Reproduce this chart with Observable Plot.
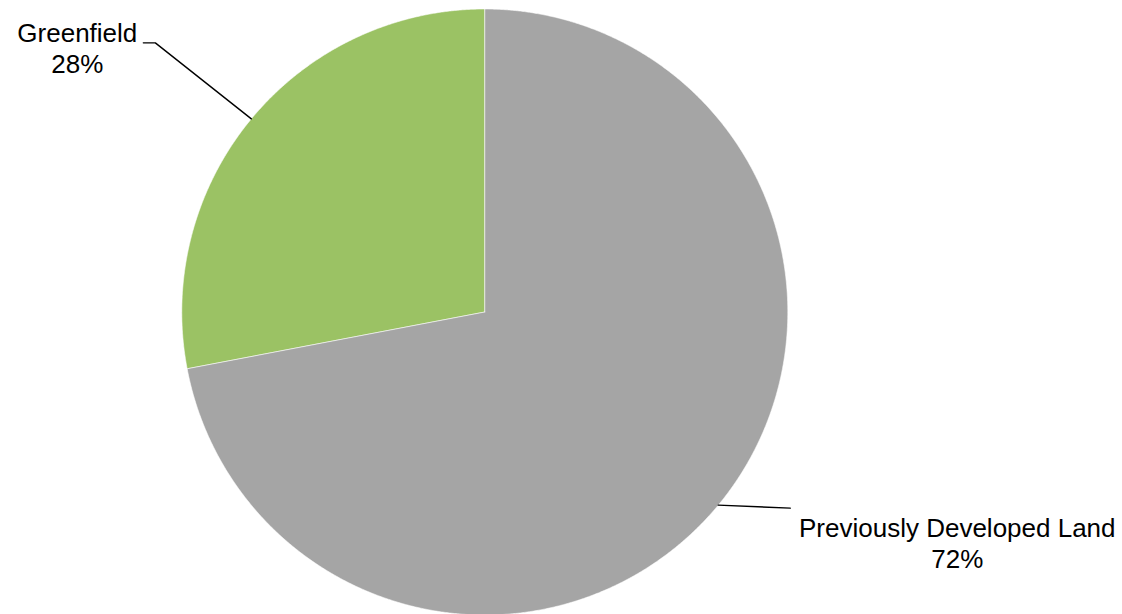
<!DOCTYPE html>
<html><head><meta charset="utf-8">
<script src="https://cdn.jsdelivr.net/npm/d3@7"></script>
<script src="https://cdn.jsdelivr.net/npm/@observablehq/plot@0.6"></script>
<style>html,body{margin:0;padding:0;background:#fff;overflow:hidden;}</style>
</head><body><div id="chart"></div>
<script>
// ---- data ----
const categories = ["Greenfield", "Previously Developed Land"];
const values = [28, 72];
const percentLabels = ["28%", "72%"];
const colors = ["#9BC264", "#A5A5A5"];

// ---- layout ----
const W = 1122, H = 614;
const cx = 484.3, cy = 311.5, R = 303;
const fontSize = 26;
const lineGap = 31;
// leader-line shape and label placement per category (layout only)
const labelLayout = {
  "Greenfield": {elbow: [-96, -76], end: [-108, -76], text: [-66, -1]},
  "Previously Developed Land": {elbow: null, end: [72, 3], text: [167, 29]}
};

const rows = categories.map((c, i) => ({name: c, value: values[i], pct: percentLabels[i]}));
const total = d3.sum(values);
const start = -2 * Math.PI * values[0] / total;
const arcs = d3.pie().sort(null).value(d => d.value).startAngle(start).endAngle(start + 2 * Math.PI)(rows);

const pt = (a, r) => [cx + r * Math.sin(a), cy - r * Math.cos(a)];

// slice polygons
const slicePts = [];
for (const a of arcs) {
  slicePts.push({name: a.data.name, x: cx, y: cy});
  const n = Math.max(2, Math.ceil((a.endAngle - a.startAngle) / (Math.PI / 720)));
  for (let k = 0; k <= n; k++) {
    const ang = a.startAngle + (a.endAngle - a.startAngle) * k / n;
    const [x, y] = pt(ang, R);
    slicePts.push({name: a.data.name, x, y});
  }
  slicePts.push({name: a.data.name, x: cx, y: cy});
}

// leaders and labels
const leaderPts = [];
const labels = [];
for (const a of arcs) {
  const L = labelLayout[a.data.name];
  const mid = (a.startAngle + a.endAngle) / 2;
  const [x0, y0] = pt(mid, R);
  leaderPts.push({name: a.data.name, x: x0, y: y0});
  if (L.elbow) leaderPts.push({name: a.data.name, x: x0 + L.elbow[0], y: y0 + L.elbow[1]});
  const ex = x0 + L.end[0], ey = y0 + L.end[1];
  leaderPts.push({name: a.data.name, x: ex, y: ey});
  const bx = ex + L.text[0], by = ey + L.text[1];
  labels.push({x: bx, y: by, text: a.data.name});
  labels.push({x: bx, y: by + lineGap, text: a.data.pct});
}

const chart = Plot.plot({
  width: W, height: H,
  margin: 0,
  style: {fontFamily: "'Liberation Sans', Arial, sans-serif", background: "#fff"},
  x: {type: "linear", domain: [0, W], range: [0, W], axis: null},
  y: {type: "linear", domain: [0, H], range: [0, H], axis: null},
  color: {domain: categories, range: colors},
  marks: [
    Plot.line(slicePts, {x: "x", y: "y", z: "name", fill: "name", stroke: "#ffffff", strokeWidth: 0.8, strokeOpacity: 0.7, curve: "linear"}),
    Plot.line(leaderPts, {x: "x", y: "y", z: "name", stroke: "#000", strokeWidth: 1.4, curve: "linear"}),
    Plot.text(labels, {x: "x", y: "y", text: "text", fontSize: fontSize, fill: "#000", textAnchor: "middle", lineAnchor: "bottom", dy: 0})
  ]
});
document.getElementById("chart").appendChild(chart);
</script>
</body></html>
